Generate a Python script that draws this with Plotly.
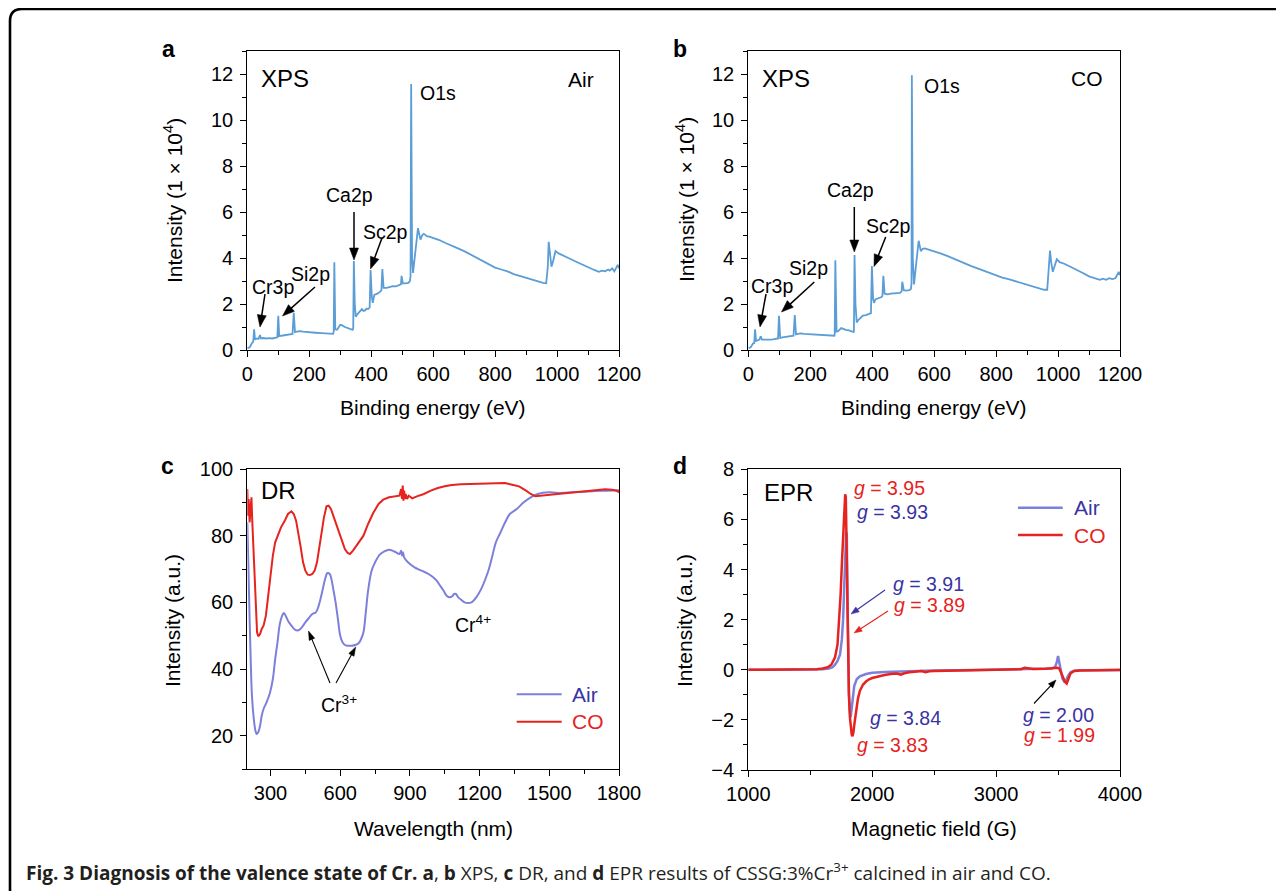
import math
import plotly.graph_objects as go

# ---------------- data ----------------
# (a) XPS, calcined in air  (binding energy eV, intensity 1e4)
xps_air_x = [0, 8, 15, 19, 22, 25, 30, 36, 41, 44, 50, 60, 70, 80, 90, 97, 100, 103, 110, 120, 130, 140, 146, 150, 154,
             160, 170, 180, 190, 200, 220, 240, 260, 270, 277, 279, 281, 284, 290, 300, 305, 315, 325, 335, 340, 342, 344,
             347, 350, 355, 360, 365, 370, 375, 380, 385, 390, 395, 398, 402, 405, 410, 420, 430, 433, 436, 440, 450, 460,
             470, 480, 490, 496, 498, 502, 510, 520, 525, 527, 529, 532, 535, 540, 545, 551, 559, 565, 570, 580, 590, 600,
             620, 640, 660, 680, 700, 720, 740, 760, 780, 800, 820, 840, 860, 880, 900, 920, 940, 955, 965, 970, 973, 977,
             982, 988, 995, 1005, 1020, 1040, 1060, 1080, 1100, 1120, 1135, 1145, 1155, 1165, 1170, 1178, 1185, 1193, 1196, 1200]
xps_air_y = [0.08, 0.12, 0.3, 0.35, 0.9, 0.45, 0.5, 0.48, 0.65, 0.5, 0.52, 0.5, 0.52, 0.5, 0.53, 0.55, 1.49, 0.6, 0.62, 0.64, 0.66, 0.67, 0.7, 1.62, 0.78,
             0.8, 0.82, 0.8, 0.78, 0.76, 0.75, 0.73, 0.72, 0.7, 0.7, 0.8, 3.82, 0.9, 0.88, 1.1, 1.08, 1.0, 0.95, 0.9, 0.88, 0.95, 3.87,
             2.0, 1.45, 1.55, 1.62, 1.68, 1.78, 1.7, 1.72, 1.8, 1.78, 1.85, 3.48, 2.3, 2.05, 2.4, 2.45, 2.55, 2.6, 3.52, 2.7, 2.7, 2.75,
             2.78, 2.77, 2.8, 2.85, 3.22, 2.9, 2.9, 2.92, 3.0, 3.2, 11.57, 4.0, 3.35, 3.9, 4.6, 5.3, 4.8, 5.0, 5.05, 4.95, 4.92, 4.88,
             4.78, 4.65, 4.55, 4.42, 4.3, 4.15, 4.02, 3.85, 3.72, 3.58, 3.5, 3.42, 3.3, 3.22, 3.12, 3.05, 2.97, 2.92, 2.9, 3.6, 4.7, 4.1,
             3.62, 3.9, 4.3, 4.2, 4.12, 3.98, 3.85, 3.72, 3.6, 3.48, 3.4, 3.45, 3.42, 3.5, 3.45, 3.55, 3.42, 3.6, 3.7, 3.55]

# (b) XPS, calcined in CO
xps_co_x = [0, 8, 15, 19, 22, 25, 30, 36, 40, 44, 50, 60, 70, 80, 90, 96, 99, 103, 110, 120, 130, 140, 146, 150, 154,
            160, 170, 180, 200, 220, 240, 260, 270, 278, 279, 281, 285, 290, 300, 305, 315, 325, 335, 340, 341, 343, 346,
            350, 355, 360, 365, 370, 380, 390, 396, 399, 403, 406, 410, 420, 430, 433, 436, 440, 450, 460, 470, 480, 490,
            495, 497, 502, 510, 520, 525, 527, 528, 531, 535, 540, 545, 550, 557, 563, 570, 580, 590, 600, 620, 640, 660,
            680, 700, 720, 740, 760, 780, 800, 820, 840, 860, 880, 900, 920, 940, 955, 965, 970, 974, 978, 983, 990, 996,
            1005, 1020, 1040, 1060, 1080, 1100, 1120, 1135, 1145, 1155, 1165, 1175, 1185, 1193, 1196, 1200]
xps_co_y = [0.08, 0.12, 0.28, 0.3, 0.9, 0.4, 0.42, 0.45, 0.6, 0.45, 0.45, 0.44, 0.45, 0.46, 0.47, 0.5, 1.49, 0.52, 0.55, 0.57, 0.58, 0.6, 0.62, 1.52, 0.68,
            0.7, 0.72, 0.7, 0.68, 0.67, 0.66, 0.65, 0.63, 0.62, 0.7, 3.9, 0.8, 0.82, 0.95, 0.92, 0.88, 0.85, 0.8, 0.78, 0.85, 4.13, 2.0,
            1.2, 1.3, 1.38, 1.45, 1.5, 1.52, 1.55, 1.6, 3.65, 2.2, 2.05, 2.2, 2.25, 2.3, 2.35, 3.23, 2.45, 2.42, 2.45, 2.47, 2.46, 2.48,
            2.55, 2.97, 2.6, 2.58, 2.6, 2.65, 2.9, 11.95, 4.0, 2.85, 3.5, 4.3, 4.75, 4.3, 4.4, 4.42, 4.38, 4.35, 4.3, 4.2, 4.1, 3.98,
            3.88, 3.76, 3.65, 3.55, 3.45, 3.33, 3.24, 3.15, 3.08, 3.0, 2.92, 2.85, 2.76, 2.7, 2.62, 2.62, 3.4, 4.32, 3.8, 3.4, 3.7, 3.95,
            3.82, 3.75, 3.62, 3.5, 3.35, 3.2, 3.12, 3.05, 3.1, 3.05, 3.12, 3.08, 3.12, 3.3, 3.4, 3.25]

# (c) Diffuse reflectance (nm, a.u.)
dr_air_x = [200, 205, 210, 215, 220, 228, 235, 240, 247, 255, 262, 270, 283, 297, 310, 320, 330, 340, 350, 357, 365, 375,
            390, 405, 420, 435, 450, 465, 480, 495, 505, 515, 525, 535, 545, 555, 562, 570, 580, 590, 600, 610, 620, 630,
            640, 650, 665, 680, 690, 700, 710, 720, 735, 750, 770, 790, 810, 825, 840, 855, 862, 866, 870, 875, 885, 900,
            920, 940, 960, 980, 1000, 1015, 1030, 1045, 1058, 1072, 1082, 1090, 1098, 1108, 1120, 1135, 1150, 1165, 1180,
            1195, 1210, 1225, 1240, 1255, 1270, 1290, 1310, 1330, 1360, 1390, 1420, 1450, 1500, 1550, 1600, 1650, 1700, 1750, 1800]
dr_air_y = [84, 70, 55, 42, 32, 25, 21.5, 20.5, 21, 23, 26, 28, 30, 32.7, 37, 43, 48, 53.5, 56, 56.8, 56, 54.5,
            53, 51.8, 51.6, 52.5, 54, 55.3, 56.5, 57, 58.5, 61, 64, 67, 68.8, 68.5, 67, 64, 60, 55, 50, 48, 47.2, 47,
            47, 47, 47.2, 47.8, 49, 51, 57, 63.5, 69.5, 72, 74.3, 75.3, 75.8, 75.5, 75, 74.5, 75.5, 74, 75, 73.5, 72.5, 71.5,
            70.5, 69.8, 69.2, 68.5, 67.5, 66.5, 65, 63.5, 62, 61.5, 61.8, 62.5, 62.5, 61.5, 60.8, 60, 59.8, 60, 61,
            62.5, 64.5, 67, 70, 74, 78, 81, 84, 86.5, 88, 90, 91.5, 92.5, 93, 92.8, 93, 93.2, 93.4, 93.5, 93.6]

dr_co_x = [200, 203, 206, 210, 214, 218, 221, 225, 230, 236, 242, 247, 255, 262, 270, 280, 290, 300, 310, 320, 333, 345,
           360, 375, 390, 400, 410, 420, 430, 440, 450, 460, 470, 480, 490, 500, 510, 520, 530, 541, 550, 560, 570, 580,
           591, 600, 610, 620, 632, 642, 655, 670, 685, 700, 720, 742, 765, 785, 810, 840, 855, 862, 866, 869, 872, 875,
           878, 882, 888, 895, 910, 930, 960, 990, 1020, 1050, 1080, 1120, 1160, 1200, 1240, 1280, 1310, 1340, 1370, 1400,
           1420, 1440, 1470, 1500, 1550, 1600, 1650, 1700, 1740, 1770, 1790, 1800]
dr_co_y = [94, 86, 91, 84, 88, 91.5, 85, 78, 68, 57, 51, 49.8, 50.5, 52, 53, 56, 62, 68, 74, 78, 80.5, 82.5,
           84.3, 86.5, 87.3, 86.5, 84.5, 81, 76.5, 72, 69.5, 68.3, 68.2, 68.5, 69.5, 72, 76, 81, 85.5, 88.8, 89, 88, 86, 84,
           82.3, 80, 78, 76, 74.8, 74.5, 75.5, 77, 78.5, 80, 83.5, 86.8, 89.5, 90.8, 91.5, 91.8, 92, 94, 91, 95, 90.5, 93.5,
           91, 92.5, 91, 92, 91.2, 91.8, 92.5, 93.5, 94.3, 94.8, 95.2, 95.4, 95.5, 95.6, 95.7, 95.8, 95.8, 95.3, 94.8, 93.5,
           92.5, 91.8, 92, 92.3, 92.6, 93, 93.4, 93.7, 93.9, 93.8, 93.5, 93]

# (d) EPR (magnetic field G, a.u.)
epr_air_x = [1000, 1200, 1400, 1500, 1600, 1650, 1680, 1700, 1720, 1740, 1755, 1765, 1775, 1783, 1790, 1795, 1800, 1806,
             1812, 1819, 1826, 1833, 1842, 1855, 1875, 1900, 1950, 2000, 2100, 2200, 2300, 2400, 2500, 2700, 2900, 3100,
             3300, 3400, 3450, 3475, 3490, 3500, 3510, 3520, 3535, 3550, 3565, 3580, 3600, 3630, 3680, 3800, 4000]
epr_air_y = [0, 0, 0, 0, 0.02, 0.05, 0.1, 0.2, 0.35, 0.6, 1.2, 2.0, 3.3, 4.6, 5.5, 5.4, 3.0, 0.4,
             -0.9, -1.6, -1.9, -1.6, -1.1, -0.65, -0.38, -0.26, -0.17, -0.12, -0.09, -0.07, -0.06, -0.03, -0.03, -0.02, 0, 0,
             0.02, 0.03, 0.05, 0.1, 0.3, 0.55, 0.3, -0.05, -0.35, -0.47, -0.42, -0.25, -0.1, -0.04, -0.02, -0.02, -0.02]

epr_co_x = [1000, 1200, 1400, 1500, 1550, 1600, 1640, 1670, 1700, 1720, 1735, 1745, 1755, 1765, 1775, 1782, 1787, 1792,
            1798, 1805, 1812, 1820, 1828, 1835, 1841, 1848, 1858, 1870, 1885, 1900, 1925, 1950, 1975, 2000, 2050, 2100,
            2150, 2200, 2230, 2260, 2300, 2350, 2400, 2430, 2460, 2500, 2600, 2800, 3000, 3200, 3230, 3300, 3400, 3450,
            3480, 3495, 3510, 3525, 3540, 3555, 3570, 3585, 3600, 3630, 3680, 3800, 4000]
epr_co_y = [0, 0, 0, 0.01, 0.02, 0.05, 0.1, 0.2, 0.5, 1.0, 2.0, 3.0, 4.2, 5.5, 6.6, 7.0, 6.9, 5.5,
            3.0, 0.5, -1.0, -1.9, -2.4, -2.6, -2.65, -2.5, -2.1, -1.6, -1.15, -0.85, -0.6, -0.47, -0.38, -0.33, -0.26, -0.21,
            -0.17, -0.15, -0.2, -0.14, -0.1, -0.08, -0.05, -0.1, -0.06, -0.05, -0.03, -0.02, 0, 0.02, 0.08, 0.03, 0.04, 0.05,
            0.06, 0.08, 0.05, -0.1, -0.3, -0.48, -0.55, -0.35, -0.15, -0.05, -0.03, -0.02, 0]

for a, b in [(xps_air_x, xps_air_y), (xps_co_x, xps_co_y), (dr_air_x, dr_air_y), (dr_co_x, dr_co_y),
             (epr_air_x, epr_air_y), (epr_co_x, epr_co_y)]:
    assert len(a) == len(b), (len(a), len(b))

# ---------------- style ----------------
W, H = 1284, 891
OFF = 8  # page body margin in the browser
FONT = "Liberation Sans, Arial, sans-serif"
XPS_BLUE = "#5b9dd6"
AIR_LINE = "#7d80da"
AIR_TEXT = "#3a33a4"
RED = "#e6231e"
TICK = 20


def X(px):
    return (px - OFF) / W


def Y(py):
    return 1 - (py - OFF) / H


fig = go.Figure()
fig.add_trace(go.Scatter(x=xps_air_x, y=xps_air_y, mode="lines", line=dict(color=XPS_BLUE, width=1.8),
                         xaxis="x", yaxis="y", showlegend=False))
fig.add_trace(go.Scatter(x=xps_co_x, y=xps_co_y, mode="lines", line=dict(color=XPS_BLUE, width=1.8),
                         xaxis="x2", yaxis="y2", showlegend=False))
fig.add_trace(go.Scatter(x=dr_air_x, y=dr_air_y, mode="lines", line=dict(color=AIR_LINE, width=2),
                         xaxis="x3", yaxis="y3", showlegend=False, line_shape="spline"))
fig.add_trace(go.Scatter(x=dr_co_x, y=dr_co_y, mode="lines", line=dict(color=RED, width=2),
                         xaxis="x3", yaxis="y3", showlegend=False))
fig.add_trace(go.Scatter(x=epr_air_x, y=epr_air_y, mode="lines", line=dict(color=AIR_LINE, width=2.5),
                         xaxis="x4", yaxis="y4", showlegend=False))
fig.add_trace(go.Scatter(x=epr_co_x, y=epr_co_y, mode="lines", line=dict(color=RED, width=2.5),
                         xaxis="x4", yaxis="y4", showlegend=False))


def axis(domain, rng, dtick, minor, tick0=None, anchor=None, standoff=0):
    d = dict(domain=domain, range=rng, dtick=dtick, showline=True, linecolor="black", linewidth=1.3,
             mirror=True, ticks="outside", ticklen=6, tickwidth=1.3, tickcolor="black", showgrid=False,
             zeroline=False, automargin=False, tickfont=dict(family=FONT, size=TICK, color="black"),
             ticklabelstandoff=standoff,
             minor=dict(ticks="outside", ticklen=4, tickwidth=1.3, tickcolor="black", dtick=minor, showgrid=False),
             anchor=anchor)
    if tick0 is not None:
        d["tick0"] = tick0
    return d


xa_dom = [X(247.3), X(619)]
xb_dom = [X(748.3), X(1120)]
y_top = [Y(350), Y(51)]
y_bot_c = [Y(769), Y(469)]
y_bot_d = [Y(770), Y(469.3)]

fig.update_layout(
    width=W, height=H, margin=dict(l=0, r=0, t=0, b=0, pad=0, autoexpand=False),
    template="none",
    paper_bgcolor="white", plot_bgcolor="white",
    xaxis=axis(xa_dom, [0, 1200], 200, 100, anchor="y"),
    yaxis=axis(y_top, [0, 13], 2, 1, tick0=0, anchor="x", standoff=3),
    xaxis2=axis(xb_dom, [0, 1200], 200, 100, anchor="y2"),
    yaxis2=axis(y_top, [0, 13], 2, 1, tick0=0, anchor="x2", standoff=3),
    xaxis3=axis(xa_dom, [200, 1800], 300, 150, tick0=300, anchor="y3"),
    yaxis3=axis(y_bot_c, [10, 100], 20, 10, tick0=20, anchor="x3", standoff=3),
    xaxis4=axis(xb_dom, [1000, 4000], 1000, 500, tick0=1000, anchor="y4"),
    yaxis4=axis(y_bot_d, [-4, 8], 2, 1, tick0=0, anchor="x4", standoff=3),
)

ann = []
shapes = []


def text(px, py, s, size, color="black", xanchor="left", angle=0, family=FONT):
    ann.append(dict(x=X(px), y=Y(py), xref="paper", yref="paper", text=s, showarrow=False,
                    xanchor=xanchor, yanchor="middle", textangle=angle,
                    font=dict(family=family, size=size, color=color)))


def arrow(x0, y0, x1, y1, color="black", width=1.5, hl=12, hw=4.5):
    """Arrow from tail (x0,y0) to tip (x1,y1), page pixels; drawn as a line plus a filled head."""
    dx, dy = x1 - x0, y1 - y0
    n = math.hypot(dx, dy)
    ux, uy = dx / n, dy / n
    bx, by = x1 - hl * ux, y1 - hl * uy
    shapes.append(dict(type="line", xref="paper", yref="paper", x0=X(x0), y0=Y(y0), x1=X(bx + ux), y1=Y(by + uy),
                       line=dict(color=color, width=width)))
    px_, py_ = -uy, ux
    pts = [(x1, y1), (bx + hw * px_, by + hw * py_), (bx - hw * px_, by - hw * py_)]
    path = "M " + " L ".join(f"{X(a)},{Y(b)}" for a, b in pts) + " Z"
    shapes.append(dict(type="path", xref="paper", yref="paper", path=path, fillcolor=color,
                       line=dict(color=color, width=0.5)))


def hline(x0, x1, y, color, width):
    shapes.append(dict(type="line", xref="paper", yref="paper", x0=X(x0), x1=X(x1), y0=Y(y), y1=Y(y),
                       line=dict(color=color, width=width)))


# panel letters
text(160, 49, "<b>a</b>", 23)
text(671, 49, "<b>b</b>", 23)
text(159, 466, "<b>c</b>", 23)
text(671, 466, "<b>d</b>", 23)

# axis titles
TT = 21
text(173, 200, "Intensity (1 × 10<sup>4</sup>)", TT, xanchor="center", angle=-90)
text(433, 407, "Binding energy (eV)", TT, xanchor="center")
text(685, 200, "Intensity (1 × 10<sup>4</sup>)", TT, xanchor="center", angle=-90)
text(934, 407, "Binding energy (eV)", TT, xanchor="center")
text(172, 620, "Intensity (a.u.)", TT, xanchor="center", angle=-90)
text(433, 828, "Wavelength (nm)", TT, xanchor="center")
text(684, 620, "Intensity (a.u.)", TT, xanchor="center", angle=-90)
text(934, 828, "Magnetic field (G)", TT, xanchor="center")

AS = 19.5
# panel a
text(259, 79, "XPS", 24)
text(566, 80, "Air", 21)
text(418, 93, "O1s", AS)
text(324, 195, "Ca2p", AS)
arrow(354, 212, 354, 260)
text(361, 232, "Sc2p", AS)
arrow(382, 238, 370.5, 269)
text(289, 274, "Si2p", AS)
arrow(315, 287, 282.5, 316)
text(250, 287, "Cr3p", AS)
arrow(265, 294, 260, 327)

# panel b
text(760, 79, "XPS", 24)
text(1069, 79, "CO", 21)
text(922, 86, "O1s", AS)
text(825, 190, "Ca2p", AS)
arrow(854.3, 207, 854.3, 252)
text(864, 226, "Sc2p", AS)
arrow(885.7, 237, 874, 266.5)
text(787, 268, "Si2p", AS)
arrow(814.3, 282, 781.5, 312)
text(748.5, 286, "Cr3p", AS)
arrow(766, 294, 760, 327)

# panel c
text(259, 490, "DR", 24)
hline(516.7, 561.7, 694.3, AIR_LINE, 2)
hline(516.7, 561.7, 721.7, RED, 2)
text(570, 694.3, "Air", 21, color=AIR_TEXT)
text(570, 721.7, "CO", 21, color=RED)
text(319, 704, "Cr<sup>3+</sup>", AS)
arrow(330, 683, 308.5, 631, width=1.1, hl=9, hw=3)
arrow(336, 683, 355.7, 647, width=1.1, hl=9, hw=3)
text(453, 624, "Cr<sup>4+</sup>", AS)

# panel d
text(762, 493, "EPR", 24)
hline(1018, 1062.7, 507.7, AIR_LINE, 2.5)
hline(1018, 1062.7, 535, RED, 2.5)
text(1072, 507.7, "Air", 21, color=AIR_TEXT)
text(1072, 535, "CO", 21, color=RED)
text(852, 488, "<i>g</i> = 3.95", AS, color=RED)
text(855, 512, "<i>g</i> = 3.93", AS, color=AIR_TEXT)
text(891, 583.5, "<i>g</i> = 3.91", AS, color=AIR_TEXT)
text(892, 605, "<i>g</i> = 3.89", AS, color=RED)
arrow(885, 590, 851, 614, color=AIR_TEXT, width=1.1, hl=8, hw=3)
arrow(888, 611, 854, 633, color=RED, width=1.1, hl=8, hw=3)
text(868, 718, "<i>g</i> = 3.84", AS, color=AIR_TEXT)
text(855, 745, "<i>g</i> = 3.83", AS, color=RED)
text(1021, 714.5, "<i>g</i> = 2.00", AS, color=AIR_TEXT)
text(1022, 734.5, "<i>g</i> = 1.99", AS, color=RED)
arrow(1034, 703.5, 1056, 680, color="black", width=1.1, hl=8, hw=3)

# caption
text(24, 872, "<b>Fig. 3 Diagnosis of the valence state of Cr. a</b>, <b>b</b> XPS, <b>c</b> DR, and <b>d</b> EPR "
              "results of CSSG:3%Cr<sup>3+</sup> calcined in air and CO.", 19, color="#231f20",
     family="Open Sans, Noto Sans, sans-serif")

# frame border (rounded top-left corner)
path = (f"M {X(10)},{Y(900)} L {X(10)},{Y(21)} Q {X(10)},{Y(9)} {X(22)},{Y(9)} L {X(1300)},{Y(9)}")
shapes.append(dict(type="path", xref="paper", yref="paper", path=path, line=dict(color="black", width=2.6)))

fig.update_layout(annotations=ann, shapes=shapes)
fig.write_html("out.html")
